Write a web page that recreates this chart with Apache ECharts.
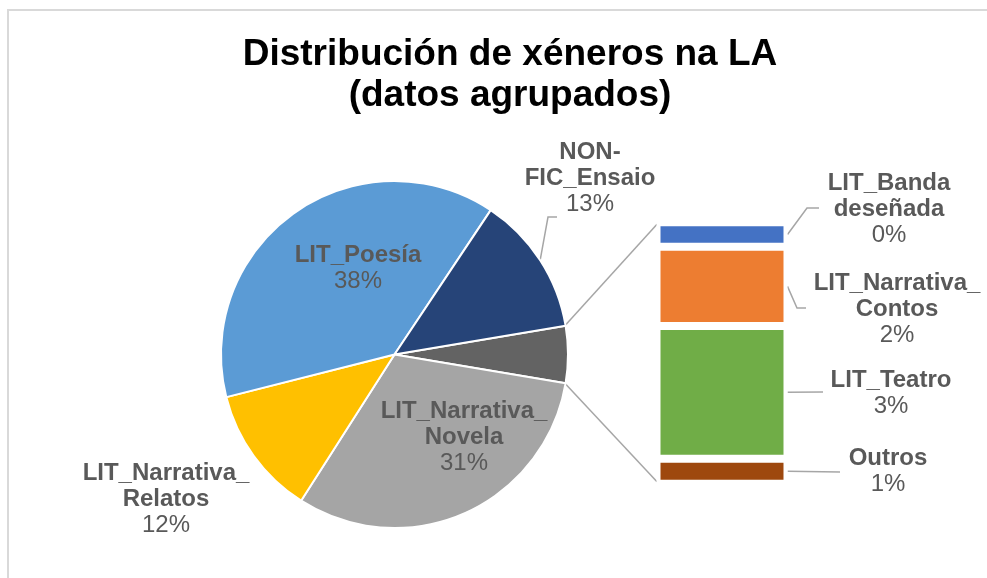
<!DOCTYPE html>
<html><head><meta charset="utf-8">
<script src="https://cdn.jsdelivr.net/npm/echarts@6/dist/echarts.min.js"></script>
<style>html,body{margin:0;padding:0;background:#fff}#c{width:987px;height:578px}</style>
</head><body><div id="c"></div>
<script>
// ---- data (percent of all books) ----
const pieCategories = ['LIT_Narrativa_Novela', 'LIT_Narrativa_Relatos', 'LIT_Poesía', 'NON-FIC_Ensaio'];
const pieValues = [31.4, 12.0, 38.3, 13.0];
const pieLabelText = ['LIT_Narrativa_\nNovela', 'LIT_Narrativa_\nRelatos', 'LIT_Poesía', 'NON-\nFIC_Ensaio'];
const barCategories = ['LIT_Banda deseñada', 'LIT_Narrativa_Contos', 'LIT_Teatro', 'Outros'];
const barValues = [0.495, 1.6, 2.68, 0.505];
const barLabelText = ['LIT_Banda\ndeseñada', 'LIT_Narrativa_\nContos', 'LIT_Teatro', 'Outros'];
const otherName = 'Outros';
const titleText = 'Distribución de xéneros na LA\n(datos agrupados)';

// ---- styles / layout ----
const pieColors = ['#A5A5A5', '#FFC000', '#5B9BD5', '#264478'];
const otherColor = '#636363';
const barColors = ['#4472C4', '#ED7D31', '#70AD47', '#9E480E'];
const FONT = "'Liberation Sans', Arial, sans-serif";
const TXT = '#595959';
const LEAD = '#A6A6A6';
const CX = 394.5, CY = 354.5, R = 173.5;
const G = {left: 656.5, top: 222.3, width: 131, height: 261.4};

const otherValue = barValues.reduce((a, b) => a + b, 0);
const total = pieValues.reduce((a, b) => a + b, 0) + otherValue;
const pct = v => Math.round(v / total * 100) + '%';
const startAngle = otherValue / total * 180;

function richLabel(text, v) {
  return text.split('\n').map(s => '{n|' + s + '}').join('\n') + '\n{p|' + pct(v) + '}';
}
const rich = {
  n: {fontFamily: FONT, fontWeight: 'bold', fontSize: 24, color: TXT, lineHeight: 26, align: 'center'},
  p: {fontFamily: FONT, fontSize: 24, color: TXT, lineHeight: 26, align: 'center'}
};

const pieData = [{name: otherName, value: otherValue, itemStyle: {color: otherColor}, label: {show: false}, labelLine: {show: false}}];
pieCategories.forEach((c, i) => {
  pieData.push({
    name: c, value: pieValues[i], itemStyle: {color: pieColors[i]},
    label: {show: true, position: c === 'NON-FIC_Ensaio' ? 'outside' : 'inside', formatter: richLabel(pieLabelText[i], pieValues[i]), rich: rich},
    labelLine: {show: c === 'NON-FIC_Ensaio', lineStyle: {color: LEAD, width: 1.5}}
  });
});
const pieLabelPos = {
  'LIT_Poesía': [358, 268],
  'LIT_Narrativa_Novela': [464, 437],
  'NON-FIC_Ensaio': [590, 178],
  'LIT_Narrativa_Relatos': [166, 499]
};
const barLabelPos = [[889, 209], [897, 309], [891, 393], [888, 471]];
const barLead = [
  [[807, 208], [819, 208]],
  [[797, 308], [806, 308]],
  [[823, 392]],
  [[840, 472]]
];

const series = [{
  type: 'pie', center: [CX, CY], radius: R, startAngle: startAngle, clockwise: true,
  avoidLabelOverlap: false, animation: false,
  itemStyle: {borderColor: '#fff', borderWidth: 2},
  data: pieData,
  labelLayout: function (p) {
    const name = pieData[p.dataIndex].name;
    const pos = pieLabelPos[name];
    if (!pos) return {};
    const res = {x: pos[0], y: pos[1], align: 'center', verticalAlign: 'middle'};
    if (name === 'NON-FIC_Ensaio' && p.labelLinePoints) {
      res.labelLinePoints = [p.labelLinePoints[0], [548, 217], [557, 217]];
    }
    return res;
  }
}];
barCategories.forEach((c, i) => {
  series.push({
    type: 'bar', name: c, stack: 'o', barWidth: '100%', xAxisIndex: 0, yAxisIndex: 0, animation: false,
    data: [barValues[i]],
    itemStyle: {color: barColors[i], borderColor: '#fff', borderWidth: 4},
    label: {show: true, position: 'right', formatter: richLabel(barLabelText[i], barValues[i]), rich: rich},
    labelLayout: function () {
      return {x: barLabelPos[i][0], y: barLabelPos[i][1], align: 'center', verticalAlign: 'middle'};
    }
  });
});

const chart = echarts.init(document.getElementById('c'), null, {renderer: 'canvas'});
chart.setOption({
  backgroundColor: '#fff',
  animation: false,
  title: {text: titleText, left: 505, textAlign: 'center', top: 29,
    textStyle: {fontFamily: FONT, fontSize: 37, fontWeight: 'bold', color: '#000', lineHeight: 41}},
  grid: G,
  xAxis: {type: 'category', data: ['otros'], show: false},
  yAxis: {type: 'value', min: 0, max: otherValue, inverse: true, show: false},
  series: series
});

// connector lines and leader lines, computed from the pie geometry and the bar axis
const a = startAngle * Math.PI / 180;
const Rv = R - 1;
const gTop = G.top + 2, gBot = G.top + G.height - 2, gLeft = G.left + 0.5;
const graphics = [
  {type: 'rect', shape: {x: 8, y: 10, width: 1100, height: 700}, style: {fill: 'none', stroke: '#D9D9D9', lineWidth: 2}, silent: true},
  {type: 'line', shape: {x1: CX + Rv * Math.cos(a), y1: CY - Rv * Math.sin(a), x2: gLeft, y2: gTop}, style: {stroke: LEAD, lineWidth: 1.5}},
  {type: 'line', shape: {x1: CX + Rv * Math.cos(a), y1: CY + Rv * Math.sin(a), x2: gLeft, y2: gBot}, style: {stroke: LEAD, lineWidth: 1.5}}
];
let cum = 0;
barValues.forEach((v, i) => {
  const yMid = chart.convertToPixel({yAxisIndex: 0}, cum + v / 2);
  cum += v;
  const xr = G.left + G.width;
  graphics.push({type: 'polyline', shape: {points: [[xr, yMid]].concat(barLead[i])}, style: {stroke: LEAD, lineWidth: 1.5, fill: 'none'}});
});
chart.setOption({graphic: graphics});
</script></body></html>
